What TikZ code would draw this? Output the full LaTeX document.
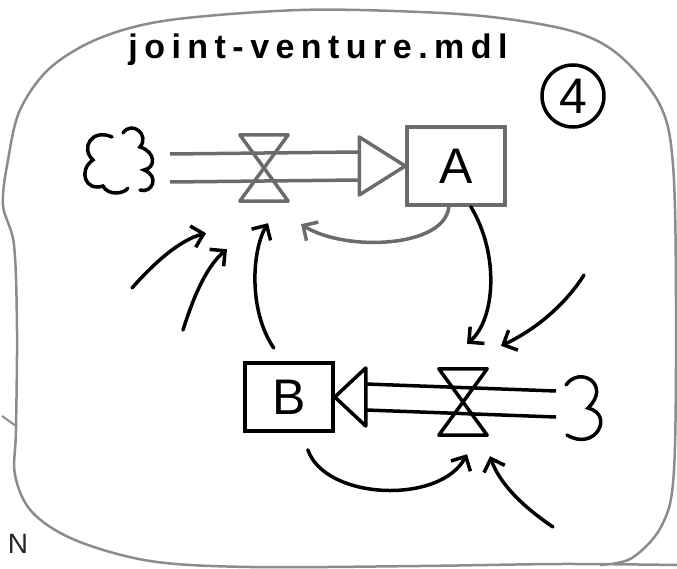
\documentclass[tikz,border=0pt]{standalone}
\usepackage{fontspec}
\setmainfont{Liberation Sans}
\newfontfamily\handfont{Liberation Sans}[LetterSpace=19]
\usetikzlibrary{arrows.meta,calc}
\definecolor{pencil}{gray}{0.42}
\definecolor{frame}{gray}{0.55}

\begin{document}
\begin{tikzpicture}[x=1pt,y=-1pt,>={Straight Barb[length=11pt,width=22pt]},
	stock/.style={draw,line width=3.5pt,minimum width=88pt,minimum height=68pt,inner sep=0pt,font=\fontsize{50}{50}\selectfont},
	valve/.style={minimum width=48pt,minimum height=66pt,inner sep=0pt},
	link/.style={->,line width=3.5pt,line cap=round},
	pipe/.style={line width=3.5pt,line join=round},
	sketch/.style={line width=3.5pt,line cap=round}]
			\useasboundingbox (0,0) rectangle (677,569);
			
			% the page outline
			\draw[frame,line width=2.5pt] plot[smooth,tension=0.55] coordinates {(677,565) (560,564) (420,566) (250,567) (150,561) (75,540) (32,512) (15,475) (16,430) (17,330) (14,245) (3,205) (8,160) (20,110) (50,68) (100,38) (170,20) (300,10) (420,12) (500,18) (575,32) (620,56) (660,105) (673,165) (676,300) (674,470) (662,525) (632,558) (600,565)};
			\draw[frame,line width=2pt] (16,426) -- (2,416);
			
			\node[font=\handfont\bfseries\fontsize{34}{34}\selectfont] (title) at (318,50) {joint-venture.mdl};
			\node[circle,draw,line width=3.5pt,minimum size=62pt,inner sep=0pt,font=\fontsize{50}{50}\selectfont] (num) at (573,96) {4};
			\node[text=black!85,font=\fontsize{28}{28}\selectfont] (corner) at (18,544) {N};
			
			\node[stock,draw=pencil,minimum width=98pt,minimum height=78pt] (A) at (456,166) {A};
			\node[stock] (B) at (289,397) {B};
			\node[valve] (vA) at (264,168) {};
			\node[valve] (vB) at (463,402) {};
			\coordinate (cloudA) at (170,168);
			\coordinate (cloudB) at (556,404);
			
			% clouds
			\draw[sketch] (112,137) .. controls (92,128) and (80,148) .. (93,160) .. controls (78,170) and (85,192) .. (103,186) .. controls (108,196) and (124,194) .. (128,188);
			\draw[sketch] (123,133) .. controls (132,120) and (150,135) .. (140,147) .. controls (156,152) and (156,168) .. (144,170) .. controls (160,176) and (152,194) .. (140,190);
			\draw[sketch] (566,385) .. controls (580,365) and (612,385) .. (588,408) .. controls (615,415) and (595,452) .. (567,435);
			
			% pipes
			\foreach \dy in {-14,14}
			\draw[pipe,pencil] ($(cloudA)+(0,\dy)$) -- ($(A.west)+(-46,\dy)$);
			\draw[pipe,pencil] ($(A.west)+(-46,-29)$) -- (A.west) -- ($(A.west)+(-46,29)$) -- cycle;
			\foreach \dy in {-13,13}
			\draw[pipe] ($(cloudB)+(0,\dy)$) -- ($(B.east)+(31,\dy)$);
			\draw[pipe] ($(B.east)+(31,-29)$) -- (B.east) -- ($(B.east)+(31,29)$) -- cycle;
			
			\foreach \v/\c in {vA/pencil,vB/black}
			\draw[pipe,draw=\c] (\v.north west) -- (\v.north east) -- (\v.south west) -- (\v.south east) -- cycle;
			
			% links
			\draw[link,pencil] (A.-100) .. controls (445,248) and (345,252) .. ($(vA.south)+(37,23)$);
			\draw[link] (A.-70) .. controls (500,255) and (495,320) .. ($(vB.north)+(4,-25)$);
			\draw[link,shorten <=16pt] (B.100) .. controls (248,310) and (252,250) .. ($(vA.south)+(4,22)$);
			\draw[link,shorten <=18pt] (B.-70) .. controls (325,500) and (440,505) .. ($(vB.south)+(4,19)$);
			
			\coordinate (inA1) at (132,288);
			\coordinate (inA2) at (183,330);
			\coordinate (inB1) at (584,275);
			\coordinate (inB2) at (553,527);
			\draw[link] (inA1) .. controls (155,262) and (180,240) .. ($(vA.south)+(-58,32)$);
			\draw[link] (inA2) .. controls (195,292) and (208,265) .. ($(vA.south)+(-37,48)$);
			\draw[link] (inB1) .. controls (565,305) and (535,330) .. ($(vB.north)+(38,-23)$);
			\draw[link] (inB2) .. controls (525,508) and (500,485) .. ($(vB.south)+(27,21)$);
\end{tikzpicture}
\end{document}
